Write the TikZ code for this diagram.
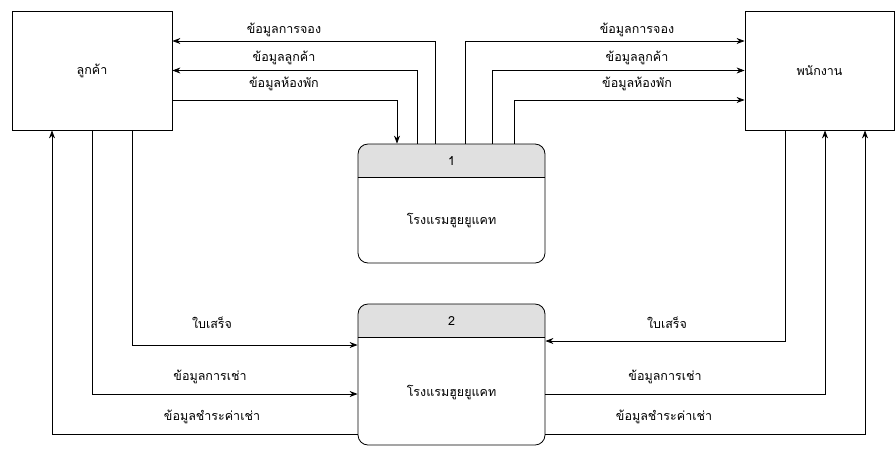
\documentclass[tikz,border=0pt]{standalone}
\usepackage{fontspec}
\newfontfamily\thaifont[Script=Thai]{Loma}
\usetikzlibrary{arrows.meta,backgrounds}
\definecolor{hdrgray}{HTML}{E0E0E0}

\begin{document}
\begin{tikzpicture}[x=1pt,y=-1pt,line width=0.8pt,
    font=\thaifont\fontsize{12.5}{14}\selectfont,
    >={Stealth[length=8pt,width=6pt]}]
	\tikzset{entity/.style={draw, rectangle, minimum width=160pt, minimum height=119pt},
		procbox/.style={draw, rectangle, rounded corners=10pt, minimum width=187pt},
		flowlabel/.style={inner sep=1pt}}
	\useasboundingbox (0,0) rectangle (896,448);

	% external entities
	\node[entity] (customer) at (92,70.5) {ลูกค้า};
	\node[entity, minimum width=149pt] (staff) at (819.5,70.5) {พนักงาน};

	% processes
	\node[procbox, minimum height=119pt] (procone) at (451.5,203.5) {};
	\node[procbox, minimum height=141pt] (proctwo) at (451.5,374.5) {};
	\begin{scope}[on background layer]
		\foreach \p in {procone,proctwo} {
			\begin{scope}
				\clip[rounded corners=10pt] (\p.north west) rectangle (\p.south east);
				\fill[hdrgray] (\p.north west) rectangle ([yshift=-34pt]\p.north east);
			\end{scope}
		}
	\end{scope}
	\draw ([yshift=-34pt]procone.north west) -- ([yshift=-34pt]procone.north east);
	\draw ([yshift=-34pt]proctwo.north west) -- ([yshift=-34pt]proctwo.north east);
	\node (numone) at ([yshift=-17pt]procone.north) {1};
	\node (numtwo) at ([yshift=-17pt]proctwo.north) {2};
	\node (nameone) at (451.5,220) {โรงแรมฮูยยูแคท};
	\node (nametwo) at (451.5,392) {โรงแรมฮูยยูแคท};

	% flows between customer and process 1
	\draw[->] ([xshift=-16.5pt]procone.north) |- ([yshift=29.5pt]customer.east);
	\draw[->] ([xshift=-34.5pt]procone.north) |- (customer.east);
	\draw[->] ([yshift=-29.5pt]customer.east) -| ([xshift=-54.5pt]procone.north);
	\node[flowlabel] (bookleft) at (284,30) {ข้อมูลการจอง};
	\node[flowlabel] (custleft) at (284,58) {ข้อมูลลูกค้า};
	\node[flowlabel] (roomleft) at (284,84) {ข้อมูลห้องพัก};

	% flows between process 1 and staff
	\draw[->] ([xshift=13.5pt]procone.north) |- ([yshift=29.5pt]staff.west);
	\draw[->] ([xshift=40.5pt]procone.north) |- (staff.west);
	\draw[->] ([xshift=62.5pt]procone.north) |- ([yshift=-29.5pt]staff.west);
	\node[flowlabel] (bookright) at (637,30) {ข้อมูลการจอง};
	\node[flowlabel] (custright) at (637,58) {ข้อมูลลูกค้า};
	\node[flowlabel] (roomright) at (637,84) {ข้อมูลห้องพัก};

	% flows between customer and process 2
	\draw[->] ([xshift=40pt]customer.south) |- ([yshift=29.5pt]proctwo.west);
	\draw[->] (customer.south) |- ([yshift=-19.5pt]proctwo.west);
	\draw[->] ([yshift=-59.5pt]proctwo.west) -| ([xshift=-40pt]customer.south);
	\node[flowlabel] (billleft) at (212,323) {ใบเสร็จ};
	\node[flowlabel] (rentleft) at (210,377) {ข้อมูลการเช่า};
	\node[flowlabel] (payleft) at (212,417) {ข้อมูลชำระค่าเช่า};

	% flows between process 2 and staff
	\draw[->] ([xshift=-34.5pt]staff.south) |- ([yshift=33.5pt]proctwo.east);
	\draw[->] ([yshift=-19.5pt]proctwo.east) -| ([xshift=5.5pt]staff.south);
	\draw[->] ([yshift=-59.5pt]proctwo.east) -| ([xshift=45.5pt]staff.south);
	\node[flowlabel] (billright) at (667,323) {ใบเสร็จ};
	\node[flowlabel] (rentright) at (665,377) {ข้อมูลการเช่า};
	\node[flowlabel] (payright) at (664,417) {ข้อมูลชำระค่าเช่า};
\end{tikzpicture}
\end{document}
